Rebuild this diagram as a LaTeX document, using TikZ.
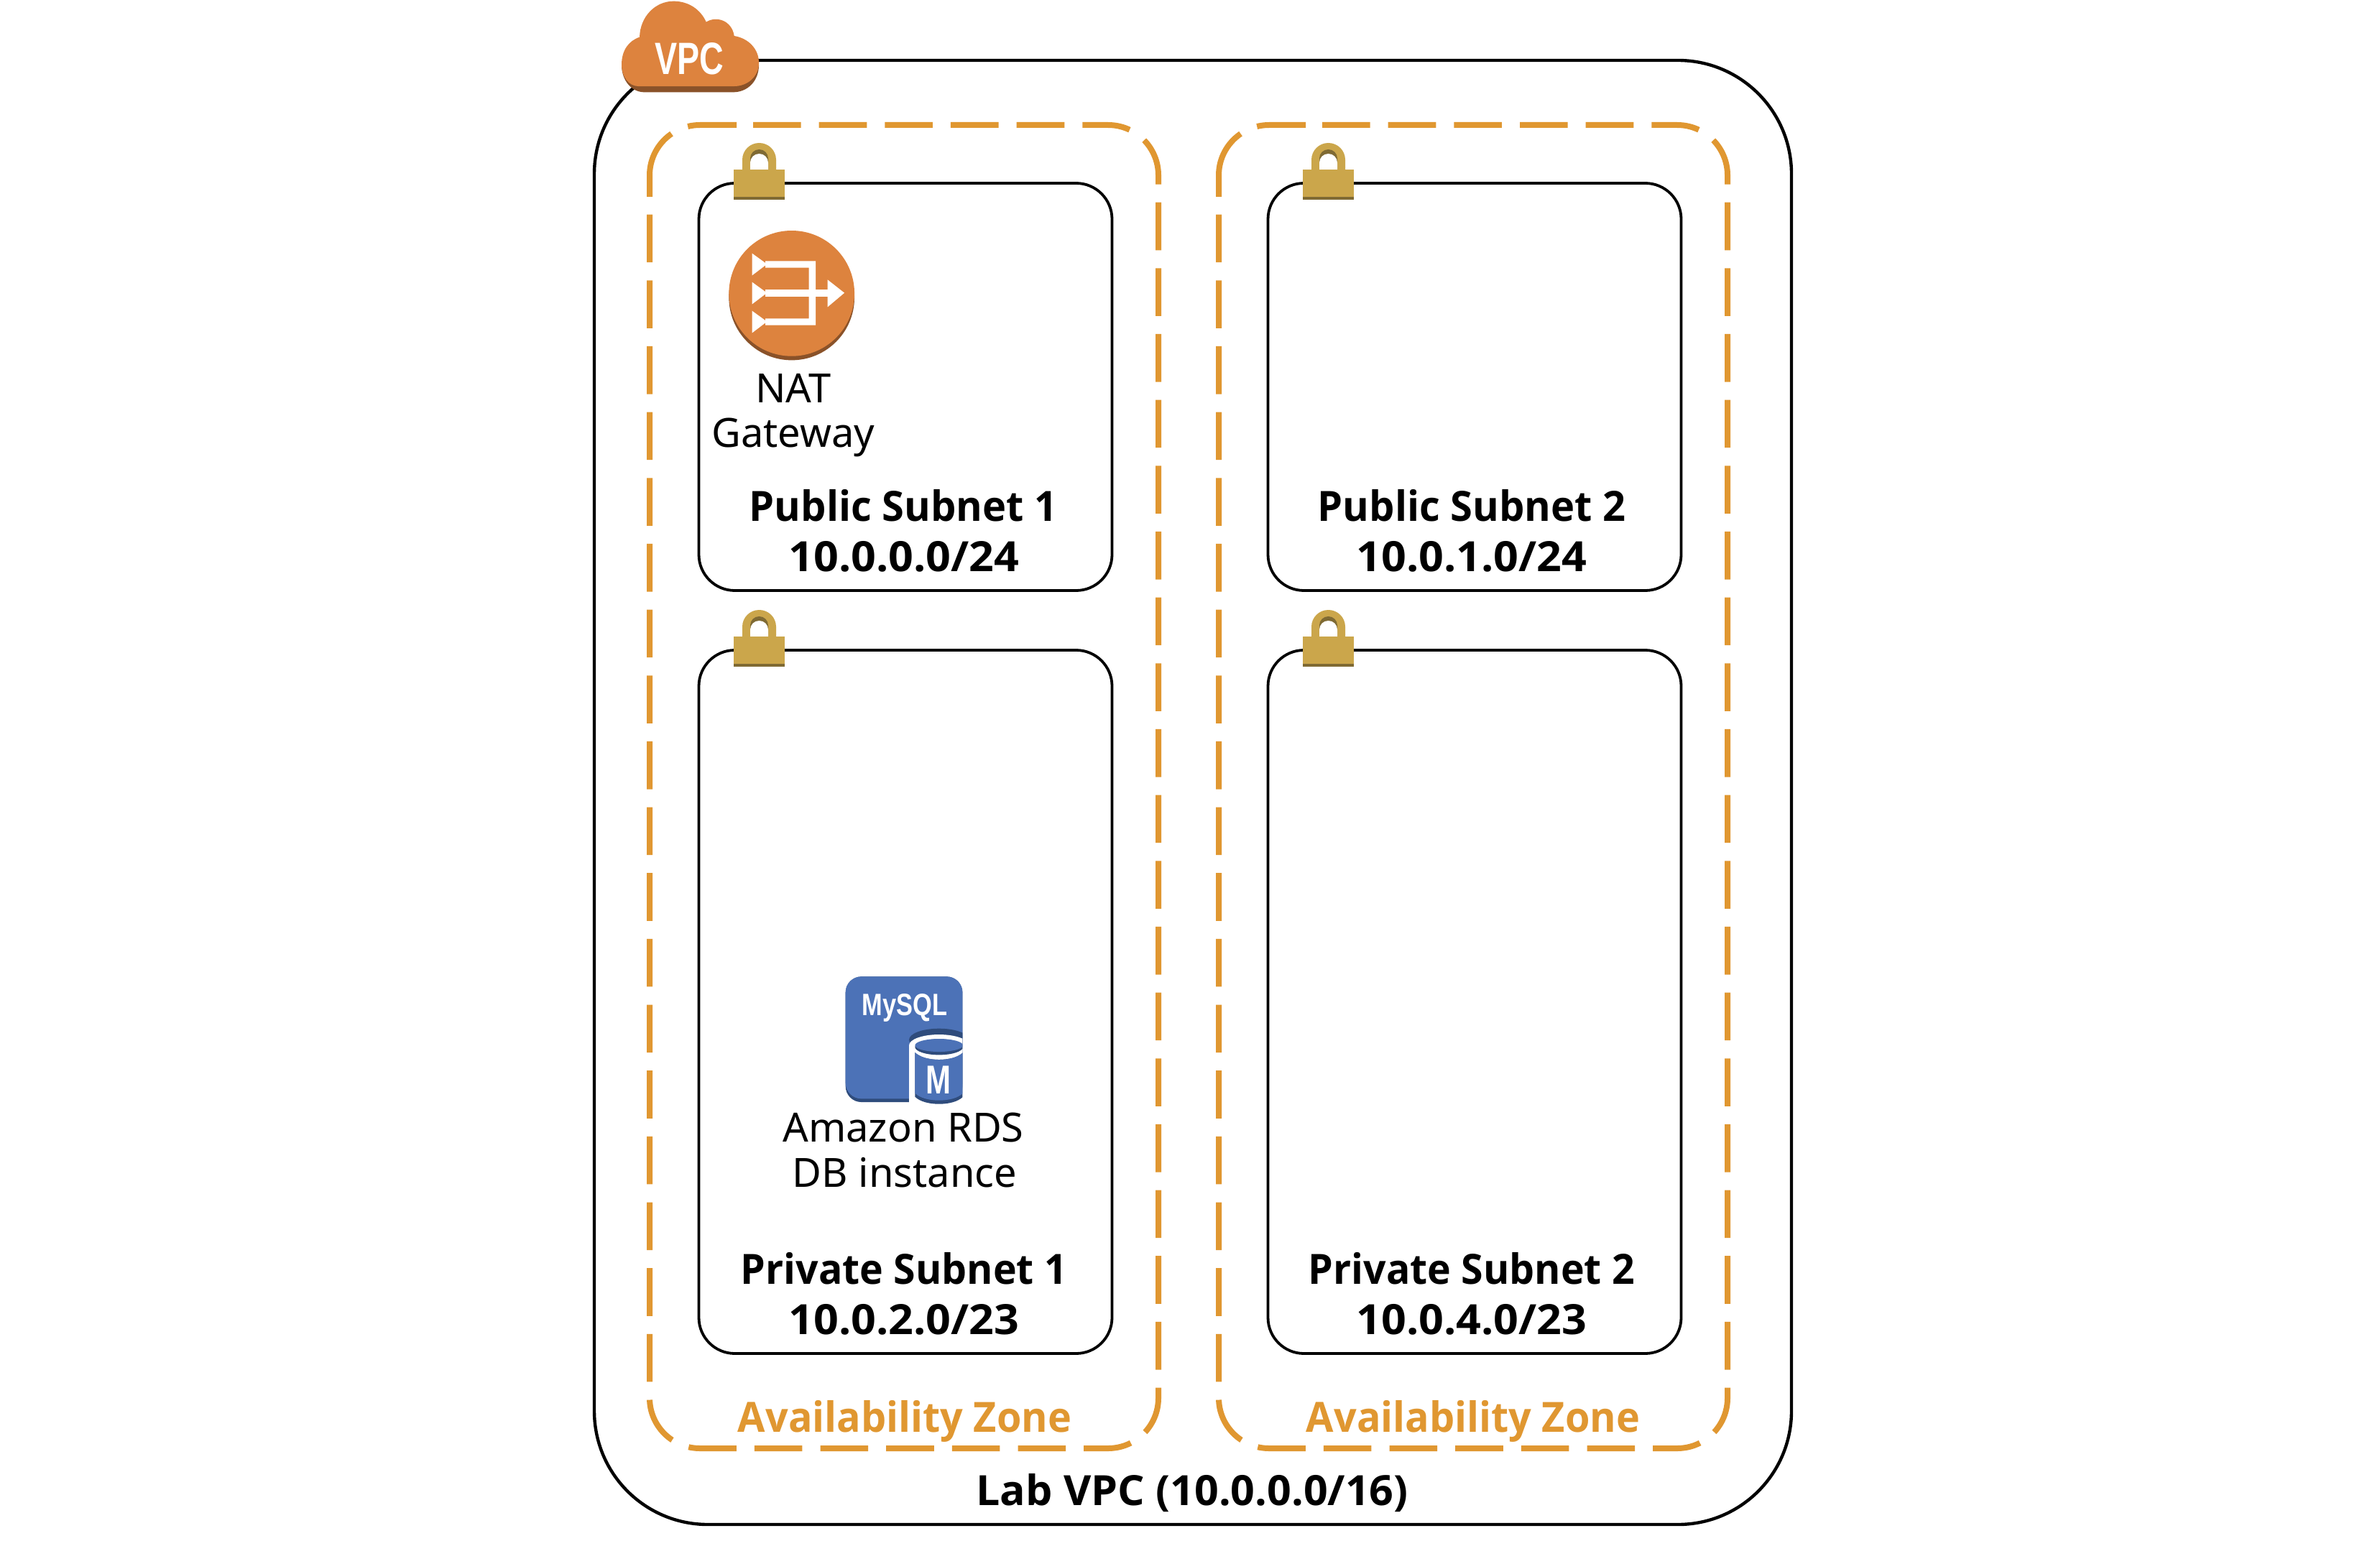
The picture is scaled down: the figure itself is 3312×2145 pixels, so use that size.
\documentclass[tikz,border=0pt]{standalone}
\usepackage{fontspec}
\setmainfont{Noto Sans}
\newfontfamily\titlefont{Open Sans}
\newfontfamily\iconfont{Liberation Sans}
\definecolor{azorange}{HTML}{E09731}
\definecolor{iconorange}{HTML}{DD833E}
\definecolor{icondark}{HTML}{8A5229}
\definecolor{lockgold}{HTML}{CBA64B}
\definecolor{lockdark}{HTML}{7F6A33}
\definecolor{dbblue}{HTML}{4C72B7}
\definecolor{dbdark}{HTML}{2F4C7C}
\tikzset{
  vpcbox/.style={draw=black,line width=2.2pt,rounded corners=79pt,inner sep=0pt,minimum width=833pt,minimum height=1019pt},
  subnetbox/.style={draw=black,line width=1.9pt,rounded corners=25pt,inner sep=0pt,minimum width=287.5pt},
  azpath/.style={draw=azorange,line width=4pt,rounded corners=35pt,dash pattern=on 33.3pt off 12.53pt},
  azseam/.style={draw=azorange,line width=4pt,rounded corners=35pt,dash pattern=on 49pt off 12.5pt on 50pt off 500pt},
  titletext/.style={anchor=base,inner sep=0pt,font=\titlefont\fontsize{29}{29}\selectfont\bfseries},
  nametext/.style={titletext,xscale=0.965},
  privtext/.style={titletext,xscale=0.955},
  addrtext/.style={titletext,xscale=1.05},
  aztext/.style={titletext,xscale=0.96,text=azorange},
  labeltext/.style={anchor=base,inner sep=0pt,font=\fontsize{28}{28}\selectfont},
  lockicon/.pic={
    \fill[lockgold,rounded corners=11.7pt] (12,30)--(12,-37)--(59,-37)--(59,30)--cycle;
    \fill[lockdark,rounded corners=6.2pt] (23,30)--(23,-28)--(48,-28)--(48,30)--cycle;
    \fill[white,rounded corners=6.2pt] (23,30)--(23,-22)--(48,-22)--(48,30)--cycle;
    \fill[lockgold] (0,0) rectangle (71,38);
    \fill[lockdark] (0,38) rectangle (71,42);
  },
}
\begin{document}
\begin{tikzpicture}[x=0.5pt,y=-0.5pt]
\useasboundingbox (0,0) rectangle (3312,2145);
\fill[white] (0,0) rectangle (3312,2145);

% VPC frame
\node[vpcbox] (vpc) at (1660,1103) {};

% Availability zones
\draw[azpath] (1048,174) -- (1612,174) -- (1612,2016) -- (904,2016) -- (904,280);
\draw[azseam] (904,274) -- (904,174) -- (1025,174);
\draw[azpath] (1840,174) -- (2404,174) -- (2404,2016) -- (1696,2016) -- (1696,280);
\draw[azseam] (1696,274) -- (1696,174) -- (1817,174);

% Subnets
\node[subnetbox,minimum height=283.5pt] (pub1) at (1260,538.5) {};
\node[subnetbox,minimum height=283.5pt] (pub2) at (2052,538.5) {};
\node[subnetbox,minimum height=489.5pt] (priv1) at (1260,1394.5) {};
\node[subnetbox,minimum height=489.5pt] (priv2) at (2052,1394.5) {};

% Locks
\pic at (1021,236) {lockicon};
\pic at (1813,236) {lockicon};
\pic at (1021,886) {lockicon};
\pic at (1813,886) {lockicon};

% VPC cloud
\begin{scope}[shift={(800,0)},x=0.1667pt,y=-0.1667pt]
\fill[icondark] (195,270) .. controls (195,340) and (240,385) .. (290,385) -- (660,385) .. controls (720,385) and (768,340) .. (768,270) -- cycle;
\fill[iconorange] (195,270) .. controls (195,210) and (225,170) .. (270,155)
  .. controls (272,70) and (335,5) .. (412,5)
  .. controls (475,5) and (525,40) .. (548,92)
  .. controls (590,65) and (655,85) .. (665,150)
  .. controls (725,160) and (768,205) .. (768,262)
  .. controls (768,320) and (720,360) .. (665,360)
  -- (265,360) .. controls (225,360) and (195,320) .. (195,270) -- cycle;
\end{scope}
\node[anchor=base,inner sep=0pt,text=white,xscale=0.74,font=\iconfont\fontsize{31.5}{31.5}\selectfont\bfseries] (vpclabel) at (959,104) {VPC};

% NAT gateway icon
\begin{scope}[shift={(950,290)},x=0.1667pt,y=-0.1667pt]
\fill[icondark] (455,372) circle[radius=262];
\fill[iconorange] (455,355) circle[radius=262];
\fill[white] (290,188) -- (352,233) -- (290,280) -- cycle;
\fill[white] (290,308) -- (352,353) -- (290,400) -- cycle;
\fill[white] (290,428) -- (352,473) -- (290,520) -- cycle;
\fill[white] (605,298) -- (675,353) -- (605,412) -- cycle;
\fill[white] (345,220) -- (555,220) -- (555,488) -- (345,488) -- (345,460) -- (527,460) -- (527,248) -- (345,248) -- cycle;
\fill[white] (345,340) -- (610,340) -- (610,368) -- (345,368) -- cycle;
\end{scope}
\node[labeltext] (natl1) at (1104,560) {NAT};
\node[labeltext] (natl2) at (1104,622) {Gateway};

% MySQL icon
\begin{scope}[shift={(1130,1340)},x=0.1667pt,y=-0.1667pt]
\clip (130,50) rectangle (628,600);
\fill[dbdark,rounded corners=11pt] (140,58) rectangle (628,582);
\fill[dbblue,rounded corners=11pt] (140,58) rectangle (628,568);
\fill[dbdark] (530,322) ellipse[x radius=125,y radius=47];
\fill[white] (530,345) ellipse[x radius=125,y radius=45];
\fill[white] (405,345) rectangle (640,600);
\fill[dbdark] (530,352) ellipse[x radius=100,y radius=33];
\fill[dbblue] (530,345) ellipse[x radius=100,y radius=27];
\fill[dbdark] (430,375) .. controls (470,415) and (590,415) .. (630,375) -- (630,560) .. controls (590,600) and (470,600) .. (430,560) -- cycle;
\fill[dbblue] (430,375) .. controls (470,415) and (590,415) .. (630,375) -- (630,545) .. controls (590,585) and (470,585) .. (430,545) -- cycle;
\end{scope}
\node[anchor=base,inner sep=0pt,text=white,xscale=0.8,font=\iconfont\fontsize{21.5}{21.5}\selectfont\bfseries] (mysql) at (1259,1413) {MySQL};
\node[anchor=base,inner sep=0pt,text=white,xscale=0.75,font=\iconfont\fontsize{28}{28}\selectfont\bfseries] (dbm) at (1305.5,1522) {M};
\node[labeltext] (rdsl1) at (1257,1589) {Amazon RDS};
\node[labeltext] (rdsl2) at (1259,1652) {DB instance};

% Titles
\node[nametext] (t1a) at (1257,725) {Public Subnet 1};
\node[addrtext] (t1b) at (1258,795) {10.0.0.0/24};
\node[nametext] (t2a) at (2048,725) {Public Subnet 2};
\node[addrtext] (t2b) at (2048,795) {10.0.1.0/24};
\node[privtext] (t3a) at (1258,1787) {Private Subnet 1};
\node[addrtext] (t3b) at (1258,1857) {10.0.2.0/23};
\node[privtext] (t4a) at (2048,1787) {Private Subnet 2};
\node[addrtext] (t4b) at (2048,1857) {10.0.4.0/23};
\node[aztext] (az1) at (1259,1993) {Availability Zone};
\node[aztext] (az2) at (2050,1993) {Availability Zone};
\node[titletext,xscale=1.018] (lab) at (1659,2095) {Lab VPC (10.0.0.0/16)};
\end{tikzpicture}
\end{document}
